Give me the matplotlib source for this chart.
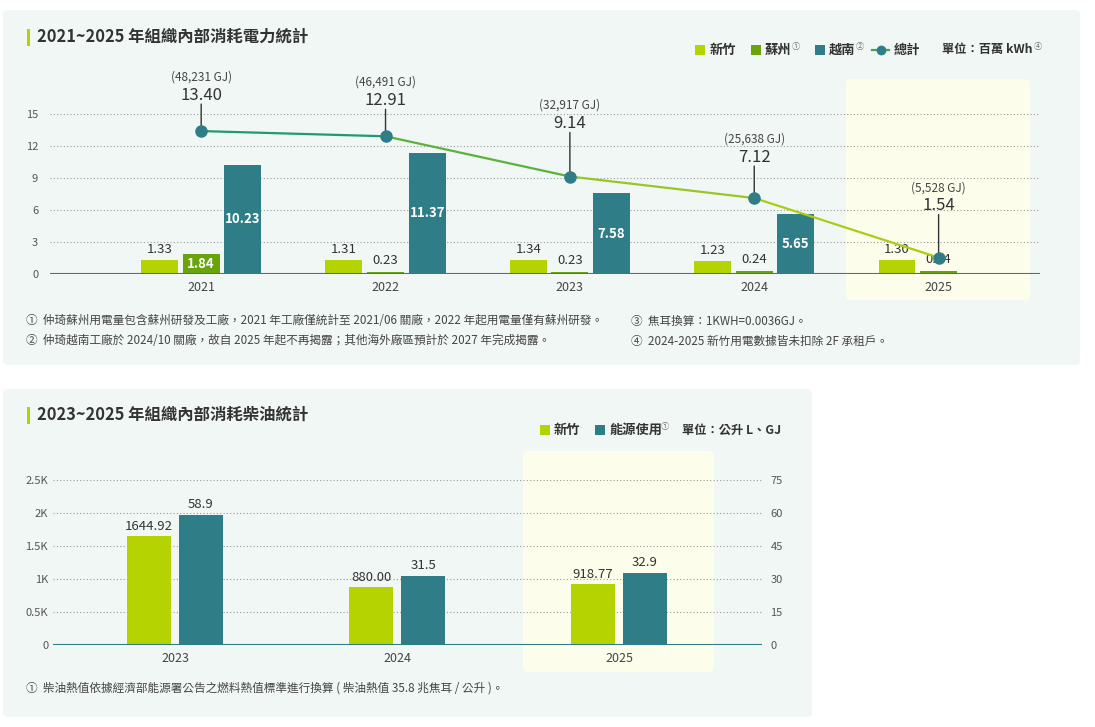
import matplotlib
matplotlib.use("Agg")
import matplotlib.pyplot as plt
from matplotlib.patches import FancyBboxPatch, Rectangle
from matplotlib.lines import Line2D
import numpy as np

plt.rcParams['font.family'] = ['Noto Sans CJK TC', 'DejaVu Sans']

# ---- data: electricity (million kWh) ----
years_elec = ['2021', '2022', '2023', '2024', '2025']
hsinchu = [1.33, 1.31, 1.34, 1.23, 1.30]
suzhou = [1.84, 0.23, 0.23, 0.24, 0.24]
vietnam = [10.23, 11.37, 7.58, 5.65, 0]
total = [13.40, 12.91, 9.14, 7.12, 1.54]
total_gj = ['(48,231 GJ)', '(46,491 GJ)', '(32,917 GJ)', '(25,638 GJ)', '(5,528 GJ)']

# ---- data: diesel ----
years_diesel = ['2023', '2024', '2025']
diesel_litre = [1644.92, 880.00, 918.77]
diesel_gj = [58.9, 31.5, 32.9]
diesel_litre_labels = ['1644.92', '880.00', '918.77']
diesel_gj_labels = ['58.9', '31.5', '32.9']

notes_elec = [
    '①  仲琦蘇州用電量包含蘇州研發及工廠，2021 年工廠僅統計至 2021/06 關廠，2022 年起用電量僅有蘇州研發。',
    '②  仲琦越南工廠於 2024/10 關廠，故自 2025 年起不再揭露；其他海外廠區預計於 2027 年完成揭露。',
    '③  焦耳換算：1KWH=0.0036GJ。',
    '④  2024-2025 新竹用電數據皆未扣除 2F 承租戶。',
]
note_diesel = '①  柴油熱值依據經濟部能源署公告之燃料熱值標準進行換算 ( 柴油熱值 35.8 兆焦耳 / 公升 )。'

# colours
C_HSINCHU = '#b5d300'
C_SUZHOU = '#68a40a'
C_VIET = '#2f7d87'
C_PANEL = '#f1f7f4'
C_HILITE = '#fdfdeb'
C_TEXT = '#333333'
seg_colors = ['#1f9b70', '#5ab23c', '#98c625', '#a9cd14']
stub_px = [27, 27, 44, 32, 43]

W, H = 1095, 727
fig = plt.figure(figsize=(W / 100, H / 100), dpi=100)
fig.patch.set_facecolor('white')


def box_px(l, t, r, b, color, z, rad=6):
    p = FancyBboxPatch((l / W, 1 - b / H), (r - l) / W, (b - t) / H,
                       boxstyle='round,pad=0,rounding_size=%f' % (rad / W),
                       transform=fig.transFigure, facecolor=color,
                       edgecolor='none', zorder=z)
    fig.patches.append(p)


def axes_px(l, t, r, b):
    return fig.add_axes([l / W, 1 - b / H, (r - l) / W, (b - t) / H])


def ftext(x, y, s, **kw):
    fig.text(x / W, 1 - y / H, s, **kw)


def rect_px(l, t, w, h, color):
    fig.patches.append(Rectangle((l / W, 1 - (t + h) / H), w / W, h / H,
                                 transform=fig.transFigure, facecolor=color,
                                 edgecolor='none'))


def square(x, y, color, size=10):
    rect_px(x, y - size / 2, size, size, color)


# panels and highlight boxes
box_px(3, 10, 1080, 365, C_PANEL, -3)
box_px(3, 389, 812, 717, C_PANEL, -3)
box_px(846, 79, 1030, 300, C_HILITE, -2)
box_px(523, 451, 714, 672, C_HILITE, -2)

# titles
rect_px(27, 29, 3, 17, C_HSINCHU)
rect_px(27, 407, 3, 17, C_HSINCHU)
ftext(37, 37, '2021~2025 年組織內部消耗電力統計', fontsize=11.8, fontweight='bold',
      color=C_TEXT, va='center')
ftext(37, 415, '2023~2025 年組織內部消耗柴油統計', fontsize=11.8, fontweight='bold',
      color=C_TEXT, va='center')

# ---------------- top chart ----------------
ax = axes_px(50, 114, 1040, 274)
ax.set_facecolor('none')
x = np.arange(len(years_elec))
bw = 0.2
off = 0.226
ax.bar(x - off, hsinchu, bw, color=C_HSINCHU, zorder=3)
ax.bar(x, suzhou, bw, color=C_SUZHOU, zorder=3)
ax.bar(x + off, vietnam, bw, color=C_VIET, zorder=3)

for i in range(len(x)):
    ax.annotate('%.2f' % hsinchu[i], (x[i] - off, hsinchu[i]), xytext=(0, 4),
                textcoords='offset pixels', ha='center', va='bottom',
                fontsize=9.5, fontweight='medium', color=C_TEXT)
    if suzhou[i] > 1:
        ax.text(x[i], suzhou[i] / 2, '%.2f' % suzhou[i], ha='center', va='center',
                fontsize=9.5, fontweight='bold', color='white', zorder=4)
    else:
        ax.annotate('%.2f' % suzhou[i], (x[i], suzhou[i]), xytext=(0, 5),
                    textcoords='offset pixels', ha='center', va='bottom',
                    fontsize=9.5, fontweight='medium', color=C_TEXT)
    if vietnam[i] > 0:
        ax.text(x[i] + off, vietnam[i] / 2, '%.2f' % vietnam[i], ha='center', va='center',
                fontsize=9.5, fontweight='bold', color='white', zorder=4)

for i in range(len(x) - 1):
    ax.plot(x[i:i + 2], total[i:i + 2], color=seg_colors[i], lw=1.6, zorder=5)
ax.plot(x, total, 'o', color=C_VIET, ms=8, zorder=6)

for i in range(len(x)):
    ax.annotate('', (x[i], total[i]), xytext=(0, stub_px[i]), textcoords='offset pixels',
                arrowprops=dict(arrowstyle='-', color='#333333', lw=1,
                                shrinkA=0, shrinkB=0), zorder=4)
    ax.annotate('%.2f' % total[i], (x[i], total[i]), xytext=(0, stub_px[i] + 9),
                textcoords='offset pixels', ha='center', va='center',
                fontsize=12, color=C_TEXT)
    ax.annotate(total_gj[i], (x[i], total[i]), xytext=(0, stub_px[i] + 27),
                textcoords='offset pixels', ha='center', va='center',
                fontsize=8.5, color='#444444')

ax.set_xlim(-0.82, 4.55)
ax.set_ylim(0, 15)
ax.set_yticks([0, 3, 6, 9, 12, 15])
ax.set_xticks(x)
ax.set_xticklabels(years_elec)
ax.tick_params(axis='y', length=0, pad=8.5, labelsize=8, labelcolor='#555555')
ax.tick_params(axis='x', length=0, pad=5, labelsize=9, labelcolor='#444444')
ax.grid(axis='y', linestyle=(0, (1, 2)), color='#9a9a9a', lw=0.8, zorder=0)
ax.axhline(0, color=C_VIET, lw=1.5, zorder=4)
for s in ax.spines.values():
    s.set_visible(False)

# top legend
square(695, 50, C_HSINCHU)
ftext(710, 50, '新竹', fontsize=9.5, fontweight='bold', color=C_TEXT, va='center')
square(751, 50, C_SUZHOU)
ftext(765, 50, '蘇州', fontsize=9.5, fontweight='bold', color=C_TEXT, va='center')
ftext(792, 46, '①', fontsize=6, color='#777777', va='center')
square(815, 50, C_VIET)
ftext(829, 50, '越南', fontsize=9.5, fontweight='bold', color=C_TEXT, va='center')
ftext(856, 46, '②', fontsize=6, color='#777777', va='center')
fig.lines.append(Line2D([872 / W, 889 / W], [1 - 50 / H, 1 - 50 / H], color='#3aa858',
                        lw=1.6, transform=fig.transFigure))
fig.lines.append(Line2D([880.5 / W], [1 - 50 / H], marker='o', ms=6, color=C_VIET,
                        transform=fig.transFigure))
ftext(894, 50, '總計', fontsize=9.5, fontweight='bold', color=C_TEXT, va='center')
ftext(942, 50, '單位：百萬 kWh', fontsize=8.8, fontweight='bold', color=C_TEXT, va='center')
ftext(1034, 46, '④', fontsize=6, color='#777777', va='center')

# top footnotes
ftext(26, 321, notes_elec[0], fontsize=8.4, color='#444444', va='center')
ftext(26, 341, notes_elec[1], fontsize=8.4, color='#444444', va='center')
ftext(631, 321, notes_elec[2], fontsize=8.4, color='#444444', va='center')
ftext(631, 341, notes_elec[3], fontsize=8.4, color='#444444', va='center')

# ---------------- bottom chart ----------------
ax1 = axes_px(53, 480, 762, 645)
ax1.set_facecolor('none')
ax2 = ax1.twinx()
ax2.set_facecolor('none')
xd = np.arange(len(years_diesel))
bw2 = 0.198
off2 = 0.117
ax1.bar(xd - off2, diesel_litre, bw2, color=C_HSINCHU, zorder=3)
ax2.bar(xd + off2, diesel_gj, bw2, color=C_VIET, zorder=3)
for i in range(len(xd)):
    ax1.annotate(diesel_litre_labels[i], (xd[i] - off2, diesel_litre[i]), xytext=(0, 3),
                 textcoords='offset pixels', ha='center', va='bottom', fontsize=9.5,
                 color=C_TEXT)
    ax2.annotate(diesel_gj_labels[i], (xd[i] + off2, diesel_gj[i]), xytext=(0, 4),
                 textcoords='offset pixels', ha='center', va='bottom', fontsize=9.5,
                 color=C_TEXT)

ax1.set_xlim(-0.55, 2.644)
ax1.set_ylim(0, 2500)
ax2.set_ylim(0, 75)
ax1.set_yticks([0, 500, 1000, 1500, 2000, 2500])
ax1.set_yticklabels(['0', '0.5K', '1K', '1.5K', '2K', '2.5K'])
ax2.set_yticks([0, 15, 30, 45, 60, 75])
ax1.set_xticks(xd)
ax1.set_xticklabels(years_diesel)
ax1.tick_params(axis='y', length=0, pad=3.5, labelsize=8, labelcolor='#555555')
ax2.tick_params(axis='y', length=0, pad=6, labelsize=8, labelcolor='#555555')
ax1.tick_params(axis='x', length=0, pad=5, labelsize=9, labelcolor='#444444')
ax1.grid(axis='y', linestyle=(0, (1, 2)), color='#9a9a9a', lw=0.8, zorder=0)
ax1.set_axisbelow(True)
ax2.axhline(0, color=C_VIET, lw=1.5, zorder=4)
for a in (ax1, ax2):
    for s in a.spines.values():
        s.set_visible(False)

# bottom legend
square(540, 430, C_HSINCHU)
ftext(554, 430, '新竹', fontsize=9.5, fontweight='bold', color=C_TEXT, va='center')
square(595, 430, C_VIET)
ftext(609, 430, '能源使用', fontsize=9.5, fontweight='bold', color=C_TEXT, va='center')
ftext(661, 426, '①', fontsize=6, color='#777777', va='center')
ftext(682, 430, '單位：公升 L、GJ', fontsize=8.8, fontweight='bold', color=C_TEXT, va='center')

ftext(26, 688, note_diesel, fontsize=8.4, color='#444444', va='center')

fig.savefig('out.png', dpi=100)
